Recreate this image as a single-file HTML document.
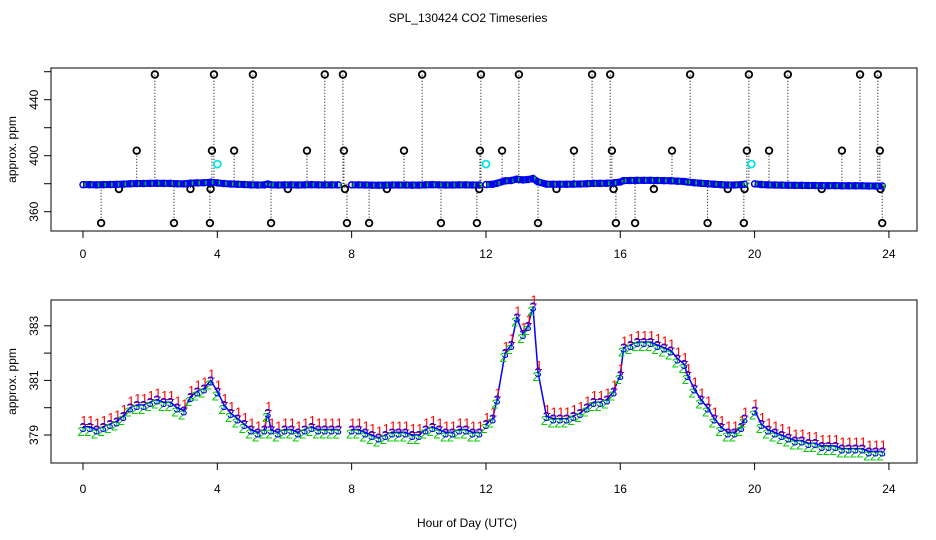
<!DOCTYPE html>
<html><head><meta charset="utf-8"><style>
body{margin:0;background:#fff;}
svg{display:block;font-family:"Liberation Sans",sans-serif;}
</style></head><body>
<svg id="chart" width="936" height="540" viewBox="0 0 936 540" xmlns="http://www.w3.org/2000/svg">
<rect width="936" height="540" fill="#fff"/>
<text x="468" y="22" font-size="12" text-anchor="middle">SPL_130424  CO2 Timeseries</text>
<text x="467" y="527" font-size="12" text-anchor="middle">Hour of Day (UTC)</text>
<g id="topPanel"></g>
<g id="botPanel"></g>
</svg>
<script>
// data
const hours = [0,0.2,0.4,0.6,0.8,1.0,1.2,1.4,1.6,1.8,2.0,2.2,2.4,2.6,2.8,3.0,3.2,3.4,3.6,3.8,4.0,4.2,4.4,4.6,4.8,5.0,5.2,5.4,5.5,5.6,5.8,6.0,6.2,6.4,6.6,6.8,7.0,7.2,7.4,7.6,null,8.0,8.2,8.4,8.6,8.8,9.0,9.2,9.4,9.6,9.8,10.0,10.2,10.4,10.6,10.8,11.0,11.2,11.4,11.6,11.8,null,12.0,12.2,12.33,12.57,12.75,12.92,13.1,13.25,13.4,13.55,13.8,14.0,14.2,14.4,14.6,14.8,15.0,15.2,15.4,15.6,15.8,16.0,16.1,16.3,16.5,16.7,16.9,17.1,17.3,17.5,17.7,17.9,18.0,18.2,18.4,18.6,18.8,19.0,19.2,19.4,19.6,19.7,null,20.0,20.2,20.4,20.6,20.8,21.0,21.2,21.4,21.6,21.8,22.0,22.2,22.4,22.6,22.8,23.0,23.2,23.4,23.6,23.8];
const ppm = [379.3,379.3,379.2,379.3,379.4,379.5,379.7,380.0,380.1,380.1,380.2,380.3,380.2,380.2,380.0,379.9,380.4,380.6,380.7,381.0,380.6,380.1,379.8,379.6,379.4,379.2,379.1,379.2,379.8,379.2,379.1,379.2,379.2,379.1,379.2,379.3,379.2,379.2,379.2,379.2,null,379.2,379.2,379.1,379.0,378.9,379.0,379.1,379.1,379.1,379.0,379.0,379.2,379.3,379.2,379.1,379.1,379.2,379.2,379.1,379.1,null,379.4,379.6,380.3,382.0,382.3,383.3,382.7,383.0,383.7,381.3,379.7,379.6,379.6,379.6,379.7,379.8,380.0,380.2,380.2,380.3,380.6,381.2,382.2,382.3,382.4,382.4,382.4,382.3,382.2,382.1,381.8,381.6,381.2,380.7,380.3,380.0,379.6,379.3,379.1,379.1,379.3,379.6,null,379.9,379.4,379.2,379.1,379.0,378.9,378.8,378.8,378.7,378.7,378.6,378.6,378.6,378.5,378.5,378.5,378.5,378.4,378.4,378.4];
const outHiHours = [2.14,3.9,5.06,7.2,7.74,10.1,11.85,12.98,15.16,15.7,18.08,19.83,20.99,23.14,23.67];
const outHiVals = [458,458,458,458,458,458,458,458,458,458,458,458,458,458,458];
const outMidHours = [1.6,3.84,4.5,6.67,7.77,9.56,11.82,12.48,14.62,15.75,17.54,19.77,20.43,22.6,23.73];
const outMidVals = [403.6,403.6,403.6,403.6,403.6,403.6,403.6,403.6,403.6,403.6,403.6,403.6,403.6,403.6,403.6];
const outLowHours = [1.07,3.2,3.8,6.1,7.8,9.05,11.8,14.1,15.8,17.0,19.2,19.7,22.0,23.75];
const outLowVals = [376.2,376.2,376.2,376.2,376.2,376.2,376.2,376.2,376.2,376.2,376.2,376.2,376.2,376.2];
const outMinHours = [0.54,2.71,3.78,5.6,7.86,8.52,10.66,11.73,13.55,15.87,16.44,18.6,19.68,23.8];
const outMinVals = [351.9,351.9,351.9,351.9,351.9,351.9,351.9,351.9,351.9,351.9,351.9,351.9,351.9,351.9];
const cyanHours = [4.0,12.0,19.9];
const cyanVals = [394,394,394];
const xTicks = [0,4,8,12,16,20,24];
const topTicks = [360,380,400,420,440,460];
const topTickLabels = ["360","","400","","440",""];
const botTicks = [379,380,381,382,383];
const botTickLabels = ["379","","381","","383"];

const NS="http://www.w3.org/2000/svg";
const X = h => 83 + h*33.58;
const YT = v => 211.7 - (v-360)*1.4;
const YB = v => 435 - (v-379)*27.3;
function mk(parent,tag,attrs){const e=document.createElementNS(NS,tag);for(const k in attrs)e.setAttribute(k,attrs[k]);parent.appendChild(e);return e;}

function axes(g, y0, y1, yTicks, yLabels, yf, xLabelY){
  const box = mk(g,'rect',{x:51,y:y0,width:866,height:y1-y0,fill:'none',stroke:'#000','stroke-width':1});
  
  
  mk(g,'line',{x1:X(0),x2:X(24),y1:y1,y2:y1,stroke:'#000'});
  xTicks.forEach(t=>{
    const l = mk(g,'line',{x1:X(t),x2:X(t),y1:y1,y2:y1+7,stroke:'#000'});
    
    
    const tx = mk(g,'text',{x:X(t),y:xLabelY,'font-size':12,'text-anchor':'middle'});
    tx.textContent=t;
    
    
  });
  yTicks.forEach((t,i)=>{
    const y=yf(t);
    const l = mk(g,'line',{x1:44,x2:51,y1:y,y2:y,stroke:'#000'});
    
    
    if(yLabels[i]){
      const tx = mk(g,'text',{x:38,y:y,'font-size':12,'text-anchor':'middle',transform:`rotate(-90 38 ${y})`});
      tx.textContent=yLabels[i];
      
      
    }
  });
  const yy=(y0+y1)/2;
  const yt = mk(g,'text',{x:16,y:yy,'font-size':12,'text-anchor':'middle',transform:`rotate(-90 16 ${yy})`});
  yt.textContent='approx. ppm';
  
  
}

function segments(){const segs=[];let cur=[];hours.forEach((h,i)=>{if(h===null){if(cur.length)segs.push(cur);cur=[];}else cur.push([h,ppm[i]]);});if(cur.length)segs.push(cur);return segs;}

// TOP PANEL
const topG=document.getElementById('topPanel');
axes(topG,68,231,topTicks,topTickLabels,YT,258);
const base = 380;
function outliers(hs,vs,color,name){
  hs.forEach((h,i)=>{
    const l=mk(topG,'line',{x1:X(h),x2:X(h),y1:YT(base),y2:YT(vs[i]),stroke:'#000','stroke-dasharray':'1,2','stroke-width':1});
    
    
    const c=mk(topG,'circle',{cx:X(h),cy:YT(vs[i]),r:3.3,fill:'none',stroke:color,'stroke-width':1.8});
    
    
  });
}
outliers(outHiHours,outHiVals,'#000','outlier-high');
outliers(outMidHours,outMidVals,'#000','outlier-mid');
outliers(outLowHours,outLowVals,'#000','outlier-low');
outliers(outMinHours,outMinVals,'#000','outlier-min');
segments().forEach(s=>{
  const pl=mk(topG,'polyline',{points:s.map(p=>X(p[0])+','+YT(p[1])).join(' '),fill:'none',stroke:'#0000ee','stroke-width':7});
  
  
});
hours.forEach((h,i)=>{
  if(h===null)return;
  const c=mk(topG,'circle',{cx:X(h),cy:YT(ppm[i]),r:3,fill:'none',stroke:'#0000ff','stroke-width':1.5});
  
  
  const g2=mk(topG,'line',{x1:X(h)+2,x2:X(h)+2,y1:YT(ppm[i])-2,y2:YT(ppm[i])+2,stroke:'#00cc00','stroke-width':1.5});
  
  
});
cyanHours.forEach((h,i)=>{
  const c=mk(topG,'circle',{cx:X(h),cy:YT(cyanVals[i]),r:3.5,fill:'none',stroke:'#00e5e5','stroke-width':1.8});
  
  
});

// BOTTOM PANEL
const botG=document.getElementById('botPanel');
axes(botG,300,463,botTicks,botTickLabels,YB,493);
segments().forEach(s=>{
  const pl=mk(botG,'polyline',{points:s.map(p=>X(p[0])+','+YB(p[1])).join(' '),fill:'none',stroke:'#0000ff','stroke-width':1.5});
  
  
});
hours.forEach((h,i)=>{
  if(h===null)return;
  const x=X(h), y=YB(ppm[i]);
  const t1=mk(botG,'text',{x:x+1,y:y-2,'font-size':13,fill:'#ff0000','text-anchor':'middle'});
  t1.textContent='1';
  
  
  const t2=mk(botG,'text',{x:x-2,y:y+9,'font-size':13,fill:'#00cc00','text-anchor':'middle'});
  t2.textContent='2';
  
  
  const t3=mk(botG,'text',{x:x,y:y+5,'font-size':13,fill:'#0000ff','text-anchor':'middle'});
  t3.textContent='3';
  
  
});
</script>
</body></html>
